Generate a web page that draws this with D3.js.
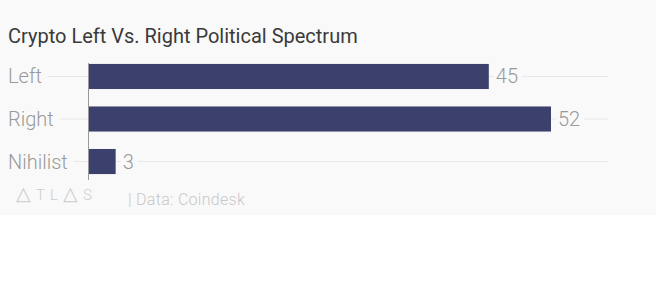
<!DOCTYPE html>
<meta charset="utf-8" />
<script src="https://d3js.org/d3.v7.min.js"></script>
<style>
  body { margin: 0; background: #fff; }
  text { font-family: Roboto, sans-serif; }
</style>
<svg id="chart" width="656" height="300"></svg>
<script>
  // data
  var categories = ["Left", "Right", "Nihilist"];
  var values = [45, 52, 3];
  var title = "Crypto Left Vs. Right Political Spectrum";
  var source = "| Data: Coindesk";

  var svg = d3.select("#chart");
  var bg = "#f9f9f9";

  svg.append("rect")
    .attr("width", 656).attr("height", 215)
    .attr("fill", bg);

  svg.append("text")
    .attr("x", 8).attr("y", 43)
    .attr("font-size", 20)
    .attr("fill", "#3a3a3a")
    .text(title);

  var x = d3.scaleLinear().domain([0, 52]).range([89, 551]);
  var y = d3.scaleBand().domain(categories).range([46.5, 191.5]).padding(0.41);

  var rows = svg.append("g").selectAll("g")
    .data(categories)
    .enter().append("g")
    .attr("transform", function(d) { return "translate(0," + (y(d) + y.bandwidth() / 2) + ")"; });

  // gridlines
  rows.append("line")
    .attr("x1", 8).attr("x2", 608)
    .attr("stroke", "#e8e8e8").attr("stroke-width", 1);

  // category labels with masking background
  rows.each(function(d) {
    var g = d3.select(this);
    var t = g.append("text")
      .attr("x", 8).attr("dy", "0.35em")
      .attr("font-size", 20).attr("font-weight", 300)
      .attr("fill", "#999")
      .text(d);
    var w = t.node().getComputedTextLength();
    g.insert("rect", "text")
      .attr("x", 0).attr("y", -10).attr("width", w + 14).attr("height", 20)
      .attr("fill", bg);
  });

  // bars
  rows.append("rect")
    .attr("x", x(0))
    .attr("y", -y.bandwidth() / 2)
    .attr("height", y.bandwidth())
    .attr("width", function(d, i) { return x(values[i]) - x(0); })
    .attr("fill", "#3b416c");

  // value labels
  rows.each(function(d, i) {
    var g = d3.select(this);
    var t = g.append("text")
      .attr("x", x(values[i]) + 7).attr("dy", "0.35em")
      .attr("font-size", 20).attr("font-weight", 300)
      .attr("fill", "#999")
      .text(values[i]);
    var w = t.node().getComputedTextLength();
    g.insert("rect", "text:last-of-type")
      .attr("x", x(values[i]) + 5).attr("y", -10).attr("width", w + 6).attr("height", 20)
      .attr("fill", bg);
  });

  // axis line
  svg.append("line")
    .attr("x1", 88.5).attr("x2", 88.5)
    .attr("y1", 63).attr("y2", 180)
    .attr("stroke", "#999").attr("stroke-width", 1);

  // footer logo
  var logo = svg.append("text")
    .attr("x", 16).attr("y", 200)
    .attr("font-size", 15).attr("font-weight", 300)
    .attr("letter-spacing", 5)
    .attr("fill", "#ccc");
  ["△", "T", "L", "△", "S"].forEach(function(c) {
    logo.append("tspan")
      .attr("font-size", c === "△" ? 19 : 15)
      .text(c);
  });

  svg.append("text")
    .attr("x", 128).attr("y", 205)
    .attr("font-size", 16).attr("font-weight", 300)
    .attr("letter-spacing", 0.3)
    .attr("fill", "#c8c8c8")
    .text(source);
</script>
